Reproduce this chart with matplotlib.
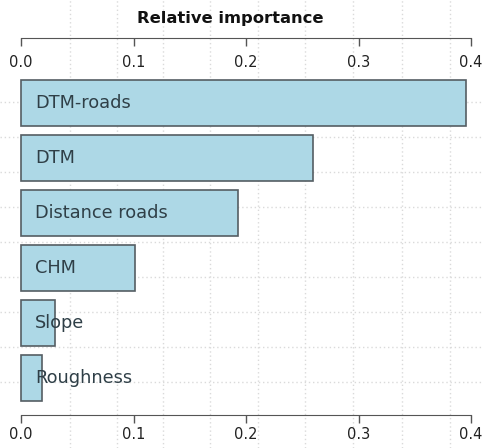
import matplotlib
matplotlib.use('Agg')
import matplotlib.pyplot as plt

# variable importance, top to bottom
names = ['DTM-roads', 'DTM', 'Distance roads', 'CHM', 'Slope', 'Roughness']
importance = [0.3956, 0.2596, 0.1929, 0.1013, 0.0302, 0.0190]
ticks = [0.0, 0.1, 0.2, 0.3, 0.4]

W, H = 483, 448
px_x = 1125.0      # pixels per unit of importance
px_y = 45.83       # pixels per bar unit (R barplot, space=0.2)
x0 = -21 / px_x
y_axis = -0.1055   # data y of the bottom axis line

fig = plt.figure(figsize=(W / 100, H / 100), dpi=100)
ax = fig.add_axes([0, 0, 1, 1])
ax.patch.set_alpha(0)
ax.set_xlim(x0, x0 + W / px_x)
ax.set_ylim(y_axis - (H - 415) / px_y, y_axis + 415 / px_y)

# dotted background grid over the whole figure
grid_x = [0.0436, 0.0853, 0.1262, 0.1680, 0.2107, 0.2524, 0.2951, 0.3387, 0.3813]
grid_y = [6.724, 5.960, 5.197, 4.433, 3.669, 2.906, 2.142, 1.378, 0.615]
ax.vlines(grid_x, 0, 1, transform=ax.get_xaxis_transform(),
          colors='#dadada', linestyles=(0, (1, 2)), linewidth=1, zorder=0)
ax.hlines(grid_y, 0, 1, transform=ax.get_yaxis_transform(),
          colors='#dadada', linestyles=(0, (1, 2)), linewidth=1, zorder=0)

n = len(names)
ypos = [0.7 + 1.2 * (n - 1 - i) for i in range(n)]
ax.barh(ypos, importance, height=1.0, left=0, color='#add8e6',
        edgecolor='#555e63', linewidth=1.2, zorder=2)
for y, name in zip(ypos, names):
    ax.text(0.0125, y, name, va='center', ha='left', fontsize=12.8,
            color='#2f3f47', zorder=3)

# bottom axis
for s in ['top', 'left', 'right']:
    ax.spines[s].set_visible(False)
ax.spines['bottom'].set_position(('data', y_axis))
ax.spines['bottom'].set_bounds(0, 0.4)
ax.spines['bottom'].set_color('#555555')
ax.set_yticks([])
ax.set_xticks(ticks)
ax.set_xticklabels(['%.1f' % t for t in ticks])
ax.tick_params(axis='x', direction='out', length=6, width=1, color='#555555',
               labelsize=10.5, labelcolor='#222222', pad=2.5)

# top axis, drawn like the bottom one
top = fig.add_axes([0, 1 - 38 / H, 1, 0.0001], sharex=ax)
top.patch.set_alpha(0)
for s in ['top', 'left', 'right']:
    top.spines[s].set_visible(False)
top.spines['bottom'].set_bounds(0, 0.4)
top.spines['bottom'].set_color('#555555')
top.set_yticks([])
top.tick_params(axis='x', direction='out', length=6, width=1, color='#555555',
                labelsize=10.5, labelcolor='#222222', pad=6.5)

fig.text(230 / W, 1 - 19 / H, 'Relative importance',
         ha='center', va='center', fontsize=11.8, fontweight='bold', color='#111111')

fig.savefig('out.png', dpi=100)
